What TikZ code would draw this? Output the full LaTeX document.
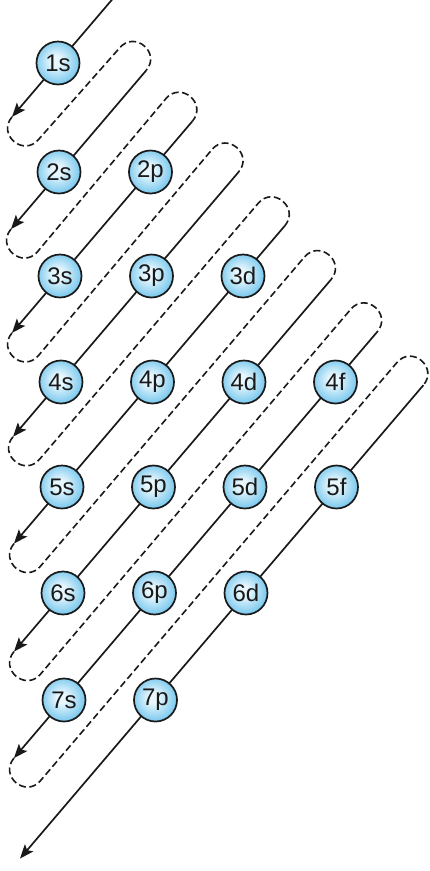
\documentclass[tikz,border=0pt]{standalone}
\usepackage{fontspec}
\setmainfont{Liberation Sans}
\usetikzlibrary{arrows.meta,calc}
\definecolor{orbA}{RGB}{232,247,253}
\definecolor{orbB}{RGB}{116,198,237}
\definecolor{ink}{RGB}{25,25,25}
\pgfdeclareradialshading{orb}{\pgfpoint{-3bp}{3bp}}{color(0bp)=(orbA); color(6bp)=(orbA); color(27bp)=(orbB); color(50bp)=(orbB)}
\pgfdeclarelayer{bg}
\pgfsetlayers{bg,main}
\tikzset{
  orbital/.style={circle, draw=ink, line width=1.7pt, shading=orb, minimum size=43pt, inner sep=0pt, font=\fontsize{24}{28}\selectfont, text=ink},
  fillline/.style={draw=ink, line width=1.7pt, -{Stealth[length=14pt,width=11pt,inset=3pt]}},
  loopline/.style={draw=ink, line width=1.6pt, dash pattern=on 7pt off 3.5pt},
}
\begin{document}
\begin{tikzpicture}[x=1pt,y=-1pt]
\useasboundingbox (0,0) rectangle (429,871);
% orbitals: (n, l index, row y, label)
\foreach \n/\l/\yy/\t in {1/0/63/1s, 2/0/172/2s, 2/1/172/2p, 3/0/276/3s, 3/1/276/3p, 3/2/276/3d,
    4/0/382/4s, 4/1/382/4p, 4/2/382/4d, 4/3/382/4f, 5/0/487/5s, 5/1/487/5p, 5/2/487/5d, 5/3/487/5f,
    6/0/593/6s, 6/1/593/6p, 6/2/593/6d, 7/0/700/7s, 7/1/700/7p} {
  \pgfmathsetmacro\xx{58+91.5*\l+(\n-1)}
  \node[orbital] (o\t) at (\xx,\yy) {\t};
}
% filling lines k: y + 1.1735 x = c_k ; bottom (arrow tip) and top ends
\coordinate (T1) at (113.4,-2);
\foreach \k/\c/\xb in {1/131/12, 2/242/11, 3/347/12, 4/452/13, 5/560/14, 6/668/14, 7/774.5/14, 8/882/20} {
  \pgfmathsetmacro\yb{\c-1.1735*\xb}
  \coordinate (B\k) at (\xb,\yb);
  \pgfmathsetmacro\xt{146.2+46.2*(\k-2)}
  \pgfmathsetmacro\yt{\c-1.1735*\xt}
  \ifnum\k>1 \coordinate (T\k) at (\xt,\yt); \fi
}
\begin{pgfonlayer}{bg}
\foreach \k in {1,...,8} {
  \draw[fillline] (T\k) -- (B\k);
}
\foreach \k [evaluate=\k as \kn using int(\k+1)] in {1,...,7} {
  \draw[loopline] (B\k) .. controls ($(B\k)+(-15.05,17.67)$) and ($(B\k)+(11.46,40.26)$) .. ($(B\k)+(26.51,22.59)$)
     -- ($(T\kn)+(-26.51,-22.59)$) .. controls ($(T\kn)+(-11.46,-40.26)$) and ($(T\kn)+(15.05,-17.67)$) .. (T\kn);
}
\end{pgfonlayer}
\end{tikzpicture}
\end{document}
